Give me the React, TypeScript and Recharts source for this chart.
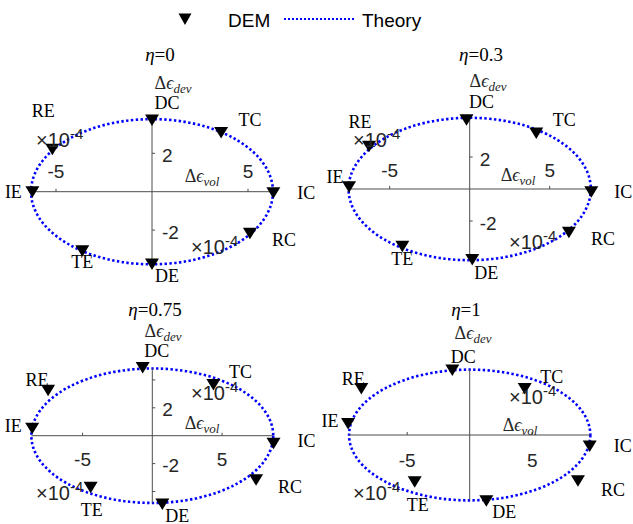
import React from "react";
import {
  ScatterChart,
  Scatter,
  XAxis,
  YAxis,
  ReferenceLine,
  ReferenceArea,
  ReferenceDot,
} from "recharts";

// loading paths, same order in every panel
const pointNames = ["DC", "TC", "IC", "RC", "DE", "TE", "IE", "RE"];

// DEM strain increments, x10^-4 (vol, dev)
const demVol0 = [0, 3.6, 6.32, 5.1, 0, -3.63, -6.23, -5.19];
const demDev0 = [3.74, 3.08, -0.05, -2.17, -3.77, -3.08, 0, 2.21];
const demVol03 = [-0.2, 4.16, 7.6, 6.2, 0.16, -4.21, -7.54, -6.29];
const demDev03 = [4.33, 3.5, -0.17, -2.71, -4.41, -3.58, 0.14, 2.67];
const demVol075 = [-0.69, 4.38, 8.69, 7.44, 0.72, -4.42, -8.61, -7.47];
const demDev075 = [4.89, 3.67, -0.54, -3.16, -4.9, -3.69, 0.53, 3.26];
const demVol1 = [-1.39, 4.4, 9.6, 8.66, 1.33, -4.4, -9.73, -8.67];
const demDev1 = [5.2, 3.73, -0.88, -3.65, -5.26, -3.73, 0.93, 3.73];

// theory ellipse semi-axes, x10^-4
const theoryVol = [6.3, 7.57, 8.67, 9.65];
const theoryDev = [3.78, 4.45, 4.82, 5.23];

const etaValues = ["0", "0.3", "0.75", "1"];
const xTickValues = [-5, 5];
const yTickValues = [[-2, 2], [-2, 2], [-4, -2, 2, 4], []];
const yTickLabelled = [-2, 2];

const demVol = [demVol0, demVol03, demVol075, demVol1];
const demDev = [demDev0, demDev03, demDev075, demDev1];

// layout (pixels)
const panels = [
  { left: 0, top: 40, width: 330, height: 250, cx: 152, cy: 191.7, k: 19.2, xLabDy: -20 },
  { left: 313, top: 40, width: 320, height: 250, cx: 469.7, cy: 189, k: 16.0, xLabDy: -19 },
  { left: 0, top: 290, width: 330, height: 234, cx: 152.3, cy: 435.7, k: 13.95, xLabDy: 24 },
  { left: 313, top: 290, width: 320, height: 234, cx: 469.7, cy: 435, k: 12.5, xLabDy: 25 },
];

const labelOffsets: Record<string, number[]>[] = [
  { DC: [15, -17], TC: [29, -13], IC: [33, 0], RC: [34, 7], DE: [15, 12], TE: [0, 11], IE: [-19, 0], RE: [-9, -38] },
  { DC: [15, -18], TC: [28, -13], IC: [32, 0], RC: [34, 7], DE: [14, 13], TE: [0, 13], IE: [-14, -10], RE: [-9, -24] },
  { DC: [14, -16], TC: [27, -13], IC: [33, -2], RC: [34, 7], DE: [15, 12], TE: [1, 23], IE: [-19, -2], RE: [-11, -10] },
  { DC: [11, -13], TC: [27, -11], IC: [33, 0], RC: [35, 9], DE: [18, 11], TE: [3, 23], IE: [-18, -2], RE: [-8, -9] },
];

const titlePos = [[160, 55], [481, 55], [155, 310], [466, 310]];
const devLabelPos = [[173, 85], [488, 83], [163, 333], [473, 335]];
const volLabelPos = [[202, 178], [518, 177], [202, 425], [520, 427]];
const expLabelPos = [
  [[36, 147], [191, 254]],
  [[353, 147], [509, 249]],
  [[191, 400], [36, 500]],
  [[509, 404], [353, 500]],
];

const SERIF = "'Liberation Serif', 'DejaVu Serif', serif";
const SANS = "'Liberation Sans', Arial, sans-serif";
const AXIS = "#4d4d4d";
const TXT = "#262626";
const BLUE = "#0000ff";

function Panel({ idx }: { idx: number }) {
  const p = panels[idx];
  const a = theoryVol[idx];
  const b = theoryDev[idx];
  const xDomain = [-(p.cx - p.left) / p.k, (p.left + p.width - p.cx) / p.k];
  const yDomain = [-(p.top + p.height - p.cy) / p.k, (p.cy - p.top) / p.k];
  const data = pointNames.map((name, i) => ({
    x: demVol[idx][i],
    y: demDev[idx][i],
    name,
  }));
  const offs = labelOffsets[idx];

  return (
    <div style={{ position: "absolute", left: p.left, top: p.top }}>
      <ScatterChart
        width={p.width}
        height={p.height}
        margin={{ top: 0, right: 0, bottom: 0, left: 0 }}
      >
        <XAxis type="number" dataKey="x" domain={xDomain} allowDataOverflow hide />
        <YAxis type="number" dataKey="y" domain={yDomain} allowDataOverflow hide />
        <ReferenceLine
          segment={[{ x: -a, y: 0 }, { x: a, y: 0 }]}
          stroke={AXIS}
          strokeWidth={1}
          ifOverflow="visible"
        />
        <ReferenceLine
          segment={[{ x: 0, y: -b }, { x: 0, y: b }]}
          stroke={AXIS}
          strokeWidth={1}
          ifOverflow="visible"
        />
        {xTickValues.map((t) => (
          <ReferenceDot
            key={"xt" + t}
            x={t}
            y={0}
            r={0}
            ifOverflow="visible"
            shape={(s: any) => (
              <g>
                <line x1={s.cx} y1={s.cy} x2={s.cx} y2={s.cy - 3} stroke={AXIS} />
                <text
                  x={s.cx}
                  y={s.cy + p.xLabDy}
                  textAnchor="middle"
                  dominantBaseline="central"
                  fontFamily={SANS}
                  fontSize={19}
                  fill={TXT}
                >
                  {t}
                </text>
              </g>
            )}
          />
        ))}
        {yTickValues[idx].map((t) => (
          <ReferenceDot
            key={"yt" + t}
            x={0}
            y={t}
            r={0}
            ifOverflow="visible"
            shape={(s: any) => (
              <g>
                <line x1={s.cx} y1={s.cy} x2={s.cx + 3} y2={s.cy} stroke={AXIS} />
                {yTickLabelled.includes(t) && (
                  <text
                    x={s.cx + 10}
                    y={s.cy + 2}
                    textAnchor="start"
                    dominantBaseline="central"
                    fontFamily={SANS}
                    fontSize={19}
                    fill={TXT}
                  >
                    {t}
                  </text>
                )}
              </g>
            )}
          />
        ))}
        <Scatter
          data={data}
          isAnimationActive={false}
          shape={(s: any) => {
            const o = offs[s.payload.name];
            return (
              <g>
                <path
                  d={`M${s.cx - 7},${s.cy - 5.5} L${s.cx + 7},${s.cy - 5.5} L${s.cx},${s.cy + 6} Z`}
                  fill="#000"
                />
                <text
                  x={s.cx + o[0]}
                  y={s.cy + o[1]}
                  textAnchor="middle"
                  dominantBaseline="central"
                  fontFamily={SERIF}
                  fontSize={18}
                  fill="#000"
                >
                  {s.payload.name}
                </text>
              </g>
            );
          }}
        />
        <ReferenceArea
          x1={-a}
          x2={a}
          y1={-b}
          y2={b}
          ifOverflow="visible"
          shape={(r: any) => (
            <ellipse
              cx={r.x + r.width / 2}
              cy={r.y + r.height / 2}
              rx={Math.abs(r.width) / 2}
              ry={Math.abs(r.height) / 2}
              fill="none"
              stroke={BLUE}
              strokeWidth={2.6}
              strokeDasharray="2.4 2.4"
            />
          )}
        />
      </ScatterChart>
    </div>
  );
}

function ExpLabel({ x, y }: { x: number; y: number }) {
  return (
    <text x={x} y={y} fontFamily={SANS} fontSize={20} fill={TXT}>
      ×10
      <tspan fontSize={15} dy={-8}>
        -4
      </tspan>
    </text>
  );
}

export default function App() {
  return (
    <div
      style={{
        position: "absolute",
        left: 0,
        top: 0,
        width: 633,
        height: 524,
        background: "#fff",
        overflow: "hidden",
      }}
    >
      {panels.map((_, i) => (
        <Panel key={i} idx={i} />
      ))}
      <svg
        width={633}
        height={524}
        style={{ position: "absolute", left: 0, top: 0, pointerEvents: "none" }}
      >
        {/* legend */}
        <path d="M178.5,13.5 L191.5,13.5 L185,25 Z" fill="#000" />
        <text x={228} y={26.5} fontFamily={SANS} fontSize={19} fill="#000">
          DEM
        </text>
        <line x1={284} y1={19} x2={356} y2={19} stroke={BLUE} strokeWidth={2} strokeDasharray="2 2" />
        <text x={362} y={26.5} fontFamily={SANS} fontSize={19} fill="#000">
          Theory
        </text>

        {etaValues.map((eta, i) => (
          <text
            key={"t" + i}
            x={titlePos[i][0]}
            y={titlePos[i][1] + 6}
            textAnchor="middle"
            fontFamily={SERIF}
            fontSize={19}
            fill="#000"
          >
            <tspan fontStyle="italic">η</tspan>={eta}
          </text>
        ))}
        {devLabelPos.map(([x, y], i) => (
          <text
            key={"d" + i}
            x={x}
            y={y + 4}
            textAnchor="middle"
            fontFamily={SERIF}
            fontSize={18}
            fill={TXT}
          >
            Δ<tspan fontStyle="italic">ϵ</tspan>
            <tspan fontStyle="italic" fontSize={13} dy={4}>
              dev
            </tspan>
          </text>
        ))}
        {volLabelPos.map(([x, y], i) => (
          <text
            key={"v" + i}
            x={x}
            y={y + 4}
            textAnchor="middle"
            fontFamily={SERIF}
            fontSize={18}
            fill={TXT}
          >
            Δ<tspan fontStyle="italic">ϵ</tspan>
            <tspan fontStyle="italic" fontSize={13} dy={4}>
              vol
            </tspan>
          </text>
        ))}
        {expLabelPos.map((pair, i) =>
          pair.map(([x, y], j) => <ExpLabel key={"e" + i + j} x={x} y={y} />)
        )}
      </svg>
    </div>
  );
}
